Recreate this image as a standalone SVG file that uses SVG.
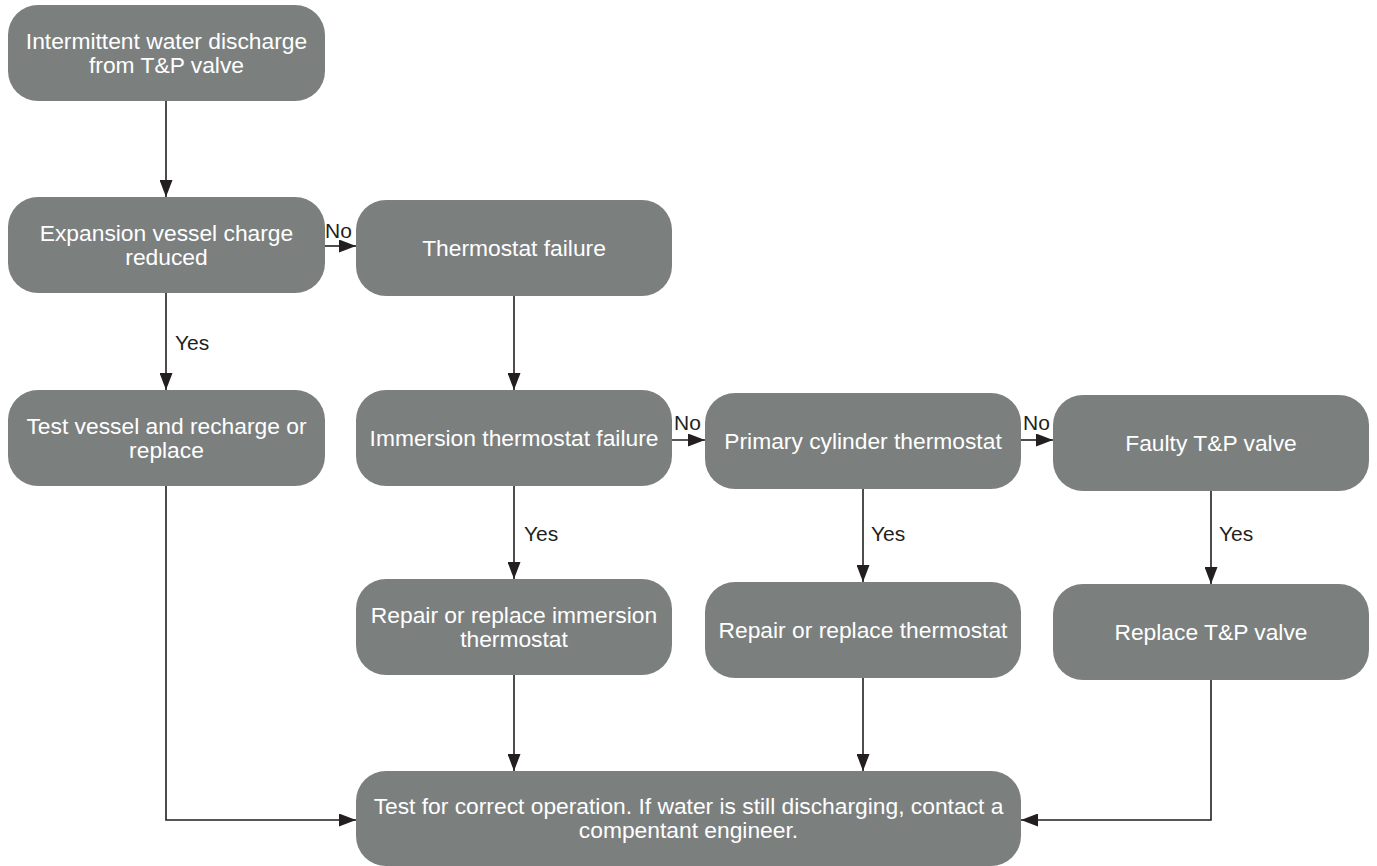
<svg xmlns="http://www.w3.org/2000/svg" width="1377" height="866" viewBox="0 0 1377 866">
<style>
.box{fill:#7b807f;}
.t{font-family:"Liberation Sans",Arial,sans-serif;font-size:22.8px;fill:#ffffff;text-anchor:middle;}
.lbl{font-family:"Liberation Sans",Arial,sans-serif;font-size:21px;fill:#231f20;}
.c{fill:none;stroke:#231f20;stroke-width:1.6;}
</style>
<defs>
<marker id="ah" markerUnits="userSpaceOnUse" markerWidth="17" markerHeight="13" refX="17" refY="6.5" orient="auto">
<path d="M0,0 L17,6.5 L0,13 z" fill="#231f20"/>
</marker>
</defs>
<rect width="1377" height="866" fill="#ffffff"/>
<g id="connectors">
<line class="c" x1="166" y1="101" x2="166" y2="197" marker-end="url(#ah)"/>
<line class="c" x1="325" y1="246" x2="356" y2="246" marker-end="url(#ah)"/>
<line class="c" x1="166" y1="293" x2="166" y2="390" marker-end="url(#ah)"/>
<line class="c" x1="514" y1="296" x2="514" y2="390" marker-end="url(#ah)"/>
<line class="c" x1="672" y1="440" x2="705" y2="440" marker-end="url(#ah)"/>
<line class="c" x1="1021" y1="440" x2="1053" y2="440" marker-end="url(#ah)"/>
<line class="c" x1="514" y1="486" x2="514" y2="579" marker-end="url(#ah)"/>
<line class="c" x1="863" y1="489" x2="863" y2="582" marker-end="url(#ah)"/>
<line class="c" x1="1211" y1="491" x2="1211" y2="584" marker-end="url(#ah)"/>
<polyline class="c" points="166,486 166,820 356,820" marker-end="url(#ah)"/>
<line class="c" x1="514" y1="675" x2="514" y2="771" marker-end="url(#ah)"/>
<line class="c" x1="863" y1="678" x2="863" y2="771" marker-end="url(#ah)"/>
<polyline class="c" points="1211,680 1211,820 1021,820" marker-end="url(#ah)"/>
<text class="lbl" x="325" y="238">No</text>
<text class="lbl" x="674" y="430">No</text>
<text class="lbl" x="1023" y="430">No</text>
<text class="lbl" x="175" y="350">Yes</text>
<text class="lbl" x="524" y="541">Yes</text>
<text class="lbl" x="871" y="541">Yes</text>
<text class="lbl" x="1219" y="541">Yes</text>
</g>
<g id="n1"><rect class="box" x="8" y="5" width="317" height="96" rx="30"/>
<text class="t" x="166.5" y="49">Intermittent water discharge</text><text class="t" x="166.5" y="73">from T&amp;P valve</text></g>
<g id="n2"><rect class="box" x="8" y="197" width="317" height="96" rx="30"/>
<text class="t" x="166.5" y="241">Expansion vessel charge</text><text class="t" x="166.5" y="265">reduced</text></g>
<g id="n3"><rect class="box" x="356" y="200" width="316" height="96" rx="30"/>
<text class="t" x="514" y="256">Thermostat failure</text></g>
<g id="n4"><rect class="box" x="8" y="390" width="317" height="96" rx="30"/>
<text class="t" x="166.5" y="434">Test vessel and recharge or</text><text class="t" x="166.5" y="458">replace</text></g>
<g id="n5"><rect class="box" x="356" y="390" width="316" height="96" rx="30"/>
<text class="t" x="514" y="446">Immersion thermostat failure</text></g>
<g id="n6"><rect class="box" x="705" y="393" width="316" height="96" rx="30"/>
<text class="t" x="863" y="449">Primary cylinder thermostat</text></g>
<g id="n7"><rect class="box" x="1053" y="395" width="316" height="96" rx="30"/>
<text class="t" x="1211" y="451">Faulty T&amp;P valve</text></g>
<g id="n8"><rect class="box" x="356" y="579" width="316" height="96" rx="30"/>
<text class="t" x="514" y="623">Repair or replace immersion</text><text class="t" x="514" y="647">thermostat</text></g>
<g id="n9"><rect class="box" x="705" y="582" width="316" height="96" rx="30"/>
<text class="t" x="863" y="638">Repair or replace thermostat</text></g>
<g id="n10"><rect class="box" x="1053" y="584" width="316" height="96" rx="30"/>
<text class="t" x="1211" y="640">Replace T&amp;P valve</text></g>
<g id="n11"><rect class="box" x="356" y="771" width="665" height="95" rx="30"/>
<text class="t" x="688.5" y="814">Test for correct operation. If water is still discharging, contact a</text><text class="t" x="688.5" y="838">compentant engineer.</text></g>
</svg>
